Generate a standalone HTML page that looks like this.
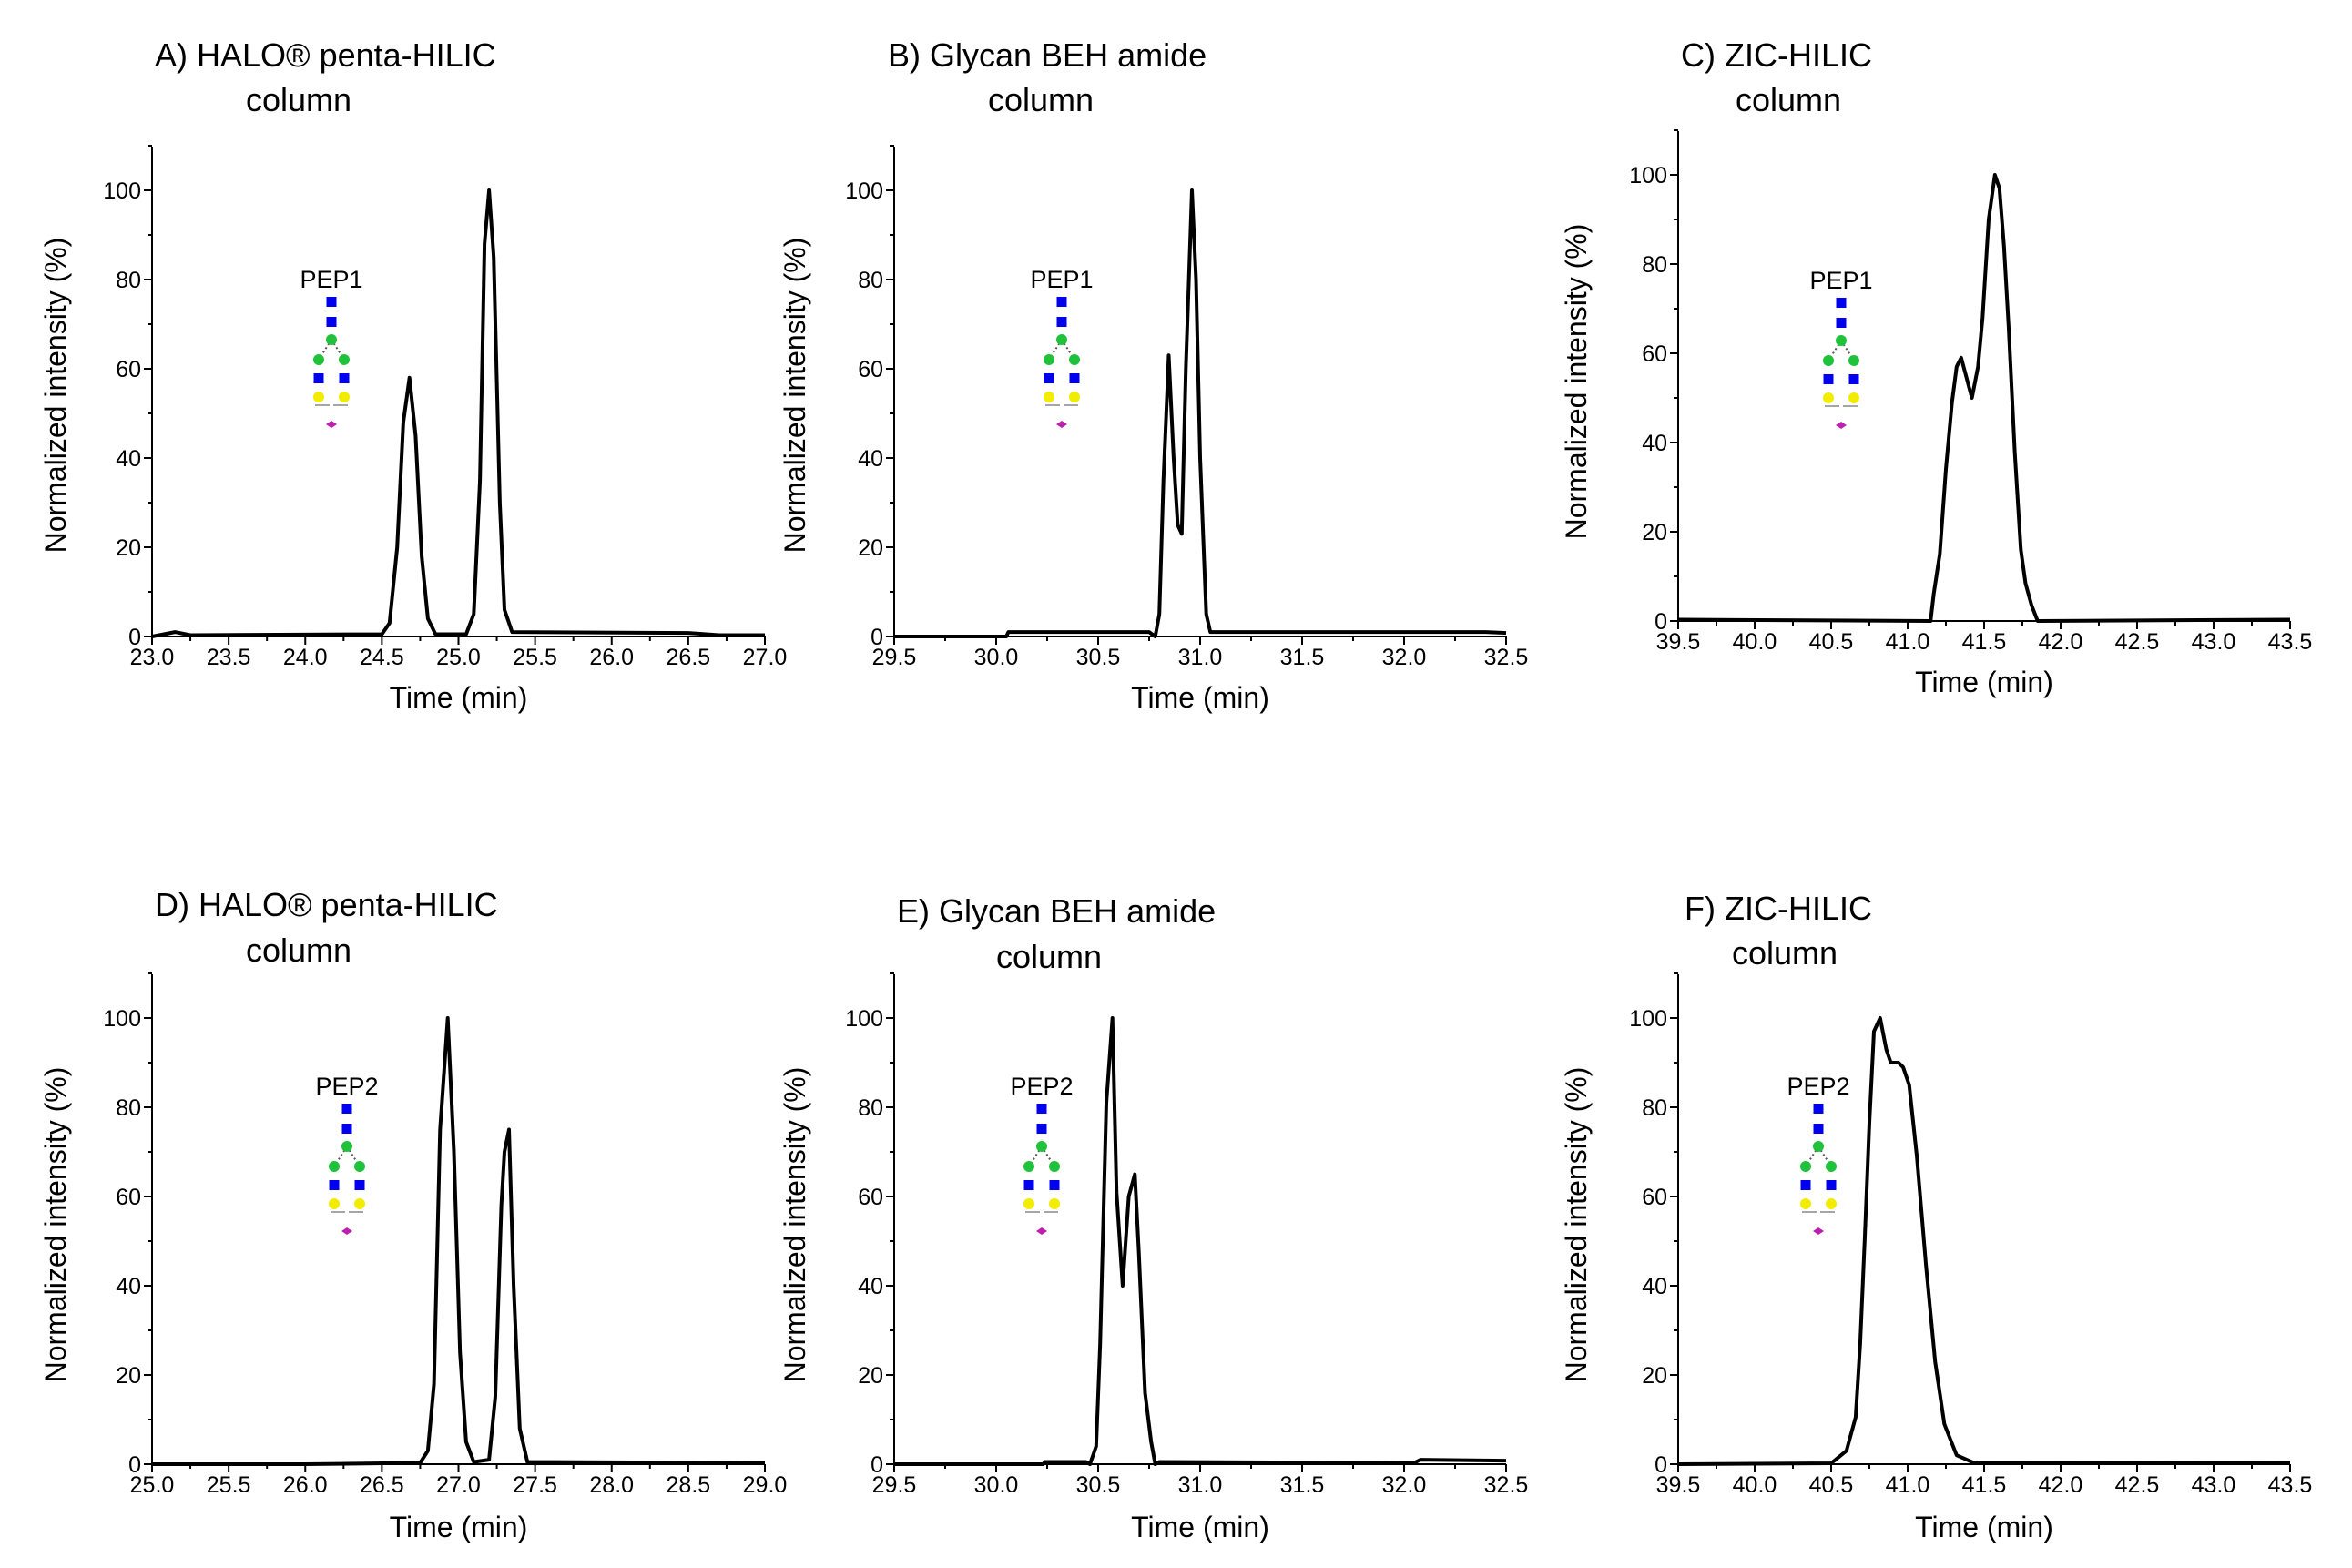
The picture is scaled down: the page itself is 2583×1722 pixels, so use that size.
<!DOCTYPE html>
<html><head><meta charset="utf-8"><style>
html,body{margin:0;padding:0;background:#fff;}
svg{display:block;font-family:"Liberation Sans",Arial,sans-serif;}
</style></head><body>
<svg id="fig" width="2583" height="1722" viewBox="0 0 2583 1722" xmlns="http://www.w3.org/2000/svg"></svg>
<script>
// ---- data (time in min, normalized intensity %) ----
const timesA = [23.0,23.15,23.25,24.5,24.55,24.6,24.64,24.68,24.72,24.76,24.8,24.85,25.05,25.1,25.14,25.17,25.2,25.23,25.27,25.3,25.35,26.5,26.7,27.0];
const valsA  = [0,1,0.3,0.5,3,20,48,58,45,18,4,0.5,0.5,5,35,88,100,85,30,6,1,0.8,0.3,0.3];
const timesB = [29.5,30.05,30.06,30.75,30.78,30.8,30.82,30.846,30.87,30.89,30.91,30.93,30.96,30.98,31.0,31.03,31.05,32.4,32.5];
const valsB  = [0,0,1,1,0,5,35,63,40,25,23,60,100,80,40,5,1,1,0.8];
const timesC = [39.5,41.15,41.17,41.21,41.25,41.29,41.32,41.35,41.42,41.46,41.49,41.53,41.57,41.6,41.63,41.66,41.7,41.74,41.77,41.81,41.85,43.5];
const valsC  = [0.3,0,6,15,34,49,57,59,50,57,68,90,100,97,84,66,38,16,8.5,3.5,0,0.3];
const timesD = [25.0,26.0,26.75,26.8,26.84,26.88,26.93,26.97,27.01,27.05,27.1,27.2,27.24,27.28,27.3,27.33,27.36,27.4,27.45,29.0];
const valsD  = [0,0,0.3,3,18,75,100,70,25,5,0.5,1,15,58,70,75,40,8,0.5,0.3];
const timesE = [29.5,30.23,30.24,30.44,30.46,30.49,30.51,30.54,30.57,30.59,30.62,30.65,30.68,30.7,30.73,30.76,30.78,30.8,32.05,32.08,32.5];
const valsE  = [0,0,0.5,0.5,0,4,27,81,100,61,40,60,65,47,16,5,0,0.5,0.3,1,0.8];
const timesF = [39.5,40.5,40.6,40.66,40.69,40.72,40.75,40.78,40.82,40.86,40.89,40.94,40.97,41.01,41.06,41.12,41.18,41.24,41.32,41.44,43.5];
const valsF  = [0,0.2,3,10.5,27,51,76.6,97,100,93,90,90,89,85,69,44.5,23,9,2,0.2,0.3];
const yTickLabels = [0,20,40,60,80,100];

const NS='http://www.w3.org/2000/svg';
const svg=document.getElementById('fig');
function mk(tag,attrs,parent){const e=document.createElementNS(NS,tag);for(const k in attrs)e.setAttribute(k,attrs[k]);(parent||svg).appendChild(e);return e;}

const panels=[
 {id:'a',t:timesA,v:valsA,xmin:23,xmax:27,x0:167,x1:840,y0:699,y100:209,ytop:161,title:'A) HALO® penta-HILIC',tx:170,ty:73,cx:328,cy:122,pep:'PEP1',px:364,py:316,yx:61,yy:434,xt:777},
 {id:'b',t:timesB,v:valsB,xmin:29.5,xmax:32.5,x0:982,x1:1654,y0:699,y100:209,ytop:161,title:'B) Glycan BEH amide',tx:975,ty:73,cx:1143,cy:122,pep:'PEP1',px:1166,py:316,yx:873,yy:434,xt:777},
 {id:'c',t:timesC,v:valsC,xmin:39.5,xmax:43.5,x0:1843,x1:2515,y0:682,y100:192,ytop:144,title:'C) ZIC-HILIC',tx:1846,ty:73,cx:1964,cy:122,pep:'PEP1',px:2022,py:317,yx:1731,yy:419,xt:760},
 {id:'d',t:timesD,v:valsD,xmin:25,xmax:29,x0:167,x1:840,y0:1608,y100:1118,ytop:1070,title:'D) HALO® penta-HILIC',tx:170,ty:1006,cx:328,cy:1056,pep:'PEP2',px:381,py:1202,yx:61,yy:1345,xt:1688},
 {id:'e',t:timesE,v:valsE,xmin:29.5,xmax:32.5,x0:982,x1:1654,y0:1608,y100:1118,ytop:1070,title:'E) Glycan BEH amide',tx:985,ty:1013,cx:1152,cy:1063,pep:'PEP2',px:1144,py:1202,yx:873,yy:1345,xt:1688},
 {id:'f',t:timesF,v:valsF,xmin:39.5,xmax:43.5,x0:1843,x1:2515,y0:1608,y100:1118,ytop:1070,title:'F) ZIC-HILIC',tx:1850,ty:1010,cx:1960,cy:1059,pep:'PEP2',px:1997,py:1202,yx:1731,yy:1345,xt:1688}
];

panels.forEach(p=>{
 const g=mk('g',{});
 
 
 const X=t=>p.x0+(t-p.xmin)/(p.xmax-p.xmin)*(p.x1-p.x0);
 const Y=v=>p.y0-v/100*(p.y0-p.y100);
 const t1=mk('text',{x:p.tx,y:p.ty,'font-size':36},g);t1.textContent=p.title;
 
 
 const t2=mk('text',{x:p.cx,y:p.cy,'font-size':36,'text-anchor':'middle'},g);t2.textContent='column';
 
 
 const ax=mk('path',{d:`M${p.x0},${p.ytop}V${p.y0}H${p.x1}`,stroke:'#000','stroke-width':2,fill:'none'},g);
 
 
 for(let v=0;v<=110;v+=10){const maj=v%20===0;mk('line',{x1:p.x0,x2:p.x0-(maj?9:5),y1:Y(v),y2:Y(v),stroke:'#000','stroke-width':2},g);}
 yTickLabels.forEach(v=>{const tl=mk('text',{x:p.x0-12,y:Y(v)+9,'font-size':25,'text-anchor':'end'},g);tl.textContent=v;
  
  });
 const n=Math.round((p.xmax-p.xmin)/0.25);
 for(let i=0;i<=n;i++){const t=p.xmin+i*0.25;const maj=i%2===0;mk('line',{x1:X(t),x2:X(t),y1:p.y0,y2:p.y0+(maj?9:5),stroke:'#000','stroke-width':2},g);
  if(maj){const tl=mk('text',{x:X(t),y:p.y0+31,'font-size':25,'text-anchor':'middle'},g);tl.textContent=t.toFixed(1);
   
   }}
 const xt=mk('text',{x:(p.x0+p.x1)/2,y:p.xt,'font-size':32,'text-anchor':'middle'},g);xt.textContent='Time (min)';
 
 
 const yt=mk('text',{x:0,y:0,'font-size':32,'text-anchor':'middle',transform:`translate(${p.yx+11},${p.yy}) rotate(-90)`},g);yt.textContent='Normalized intensity (%)';
 
 
 const d=p.t.map((t,i)=>(i?'L':'M')+X(t).toFixed(1)+','+Y(p.v[i]).toFixed(1)).join('');
 const tr=mk('path',{d:d,stroke:'#000','stroke-width':4,fill:'none','stroke-linejoin':'round'},g);
 
 
 const gg=mk('g',{},g);
 
 
 const lb=mk('text',{x:p.px,y:p.py,'font-size':27,'text-anchor':'middle'},gg);lb.textContent=p.pep;
 
 
 const cx=p.px,b=p.py;
 mk('path',{d:`M${cx},${b+57}L${cx-14},${b+79}M${cx},${b+57}L${cx+14},${b+79}`,stroke:'#555','stroke-width':2,'stroke-dasharray':'2,3',fill:'none'},gg);
 mk('rect',{x:cx-5.5,y:b+10,width:11,height:11,fill:'#0000ee'},gg);
 mk('rect',{x:cx-5.5,y:b+32,width:11,height:11,fill:'#0000ee'},gg);
 mk('circle',{cx:cx,cy:b+57,r:6,fill:'#1fc23a'},gg);
 mk('circle',{cx:cx-14,cy:b+79,r:6,fill:'#1fc23a'},gg);
 mk('circle',{cx:cx+14,cy:b+79,r:6,fill:'#1fc23a'},gg);
 mk('rect',{x:cx-19.5,y:b+94,width:11,height:11,fill:'#0000ee'},gg);
 mk('rect',{x:cx+8.5,y:b+94,width:11,height:11,fill:'#0000ee'},gg);
 mk('circle',{cx:cx-14,cy:b+120,r:6,fill:'#f2ec00'},gg);
 mk('circle',{cx:cx+14,cy:b+120,r:6,fill:'#f2ec00'},gg);
 mk('path',{d:`M${cx-18},${b+129}H${cx-2}M${cx+2},${b+129}H${cx+18}`,stroke:'#888','stroke-width':1.5},gg);
 mk('path',{d:`M${cx-6},${b+150}L${cx},${b+146}L${cx+6},${b+150}L${cx},${b+154}Z`,fill:'#c020b0'},gg);
});
</script>
</body></html>
